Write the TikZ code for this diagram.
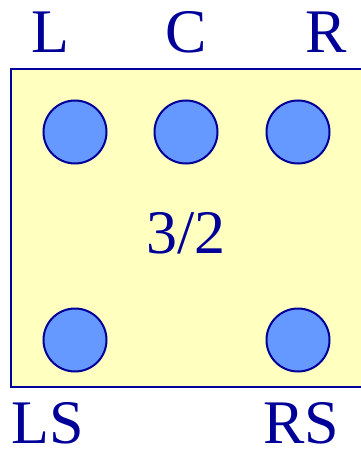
\documentclass[tikz,border=0pt]{standalone}
\usepackage{fontspec}
\setmainfont{Liberation Serif}
\definecolor{dblue}{RGB}{0,0,153}
\definecolor{cfill}{RGB}{102,153,255}
\definecolor{yfill}{RGB}{255,255,192}
\begin{document}
\begin{tikzpicture}[x=1pt,y=-1pt,
  spk/.style={circle,draw=dblue,fill=cfill,line width=2pt,minimum size=63pt,inner sep=0pt},
  lbl/.style={text=dblue,font=\fontsize{62}{62}\selectfont,anchor=base,inner sep=0pt,text depth=0pt}]
\useasboundingbox (0,0) rectangle (360,449);
\draw[draw=dblue,fill=yfill,line width=2pt] (11,69) rectangle (372,387);
\node[spk] (l) at (75,132) {};
\node[spk] (c) at (186,132) {};
\node[spk] (r) at (298,132) {};
\node[spk] (ls) at (75,340) {};
\node[spk] (rs) at (298,340) {};
\node[lbl] (tl) at (50,53) {L};
\node[lbl] (tc) at (186,53) {C};
\node[lbl] (tr) at (326,53) {R};
\node[lbl] (tls) at (48,443) {LS};
\node[lbl] (trs) at (301,443) {RS};
\node[lbl] (mid) at (186,253) {3/2};
\end{tikzpicture}
\end{document}
